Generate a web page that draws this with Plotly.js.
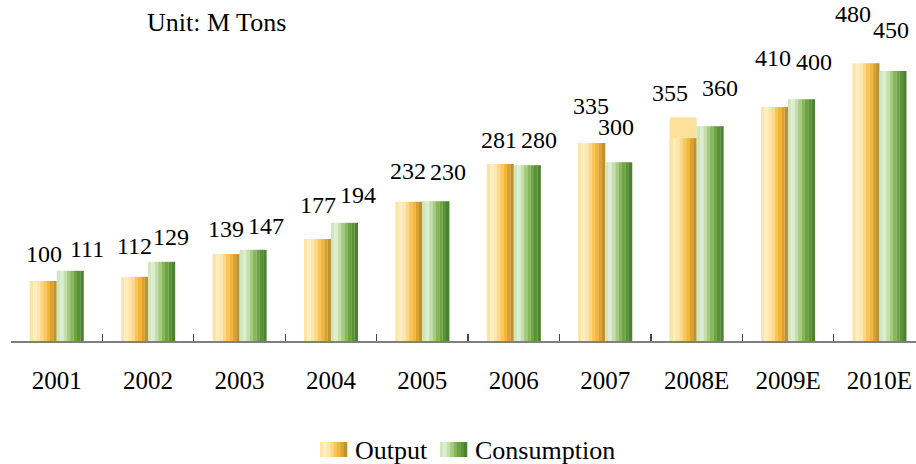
<!DOCTYPE html>
<html>
<head>
<meta charset="utf-8">
<script src="https://cdn.plot.ly/plotly-3.0.1.min.js"></script>
<style>html,body{margin:0;padding:0;background:#fff;}#chart{width:916px;height:464px;}</style>
</head>
<body>
<div id="chart"></div>
<script>
// ---- data ----
const years = ['2001','2002','2003','2004','2005','2006','2007','2008E','2009E','2010E'];
const outputBars = [100, 107, 145, 170, 232, 295, 330, 338, 390, 463];
const consumptionBars = [117, 132, 152, 197, 233, 293, 298, 358, 403, 450];
const outputUpper = [null, null, null, null, null, null, null, 373, null, null];
const outputLabels = [100, 112, 139, 177, 232, 281, 335, 355, 410, 480];
const consumptionLabels = [111, 129, 147, 194, 230, 280, 300, 360, 400, 450];
const unitText = 'Unit: M Tons';
const seriesNames = ['Output', 'Consumption'];

// ---- layout / style (label horizontal placement in px, as drawn in the original) ----
const outputLabelShift = [-13, -14, -14, -13, -14, -15, -14, -27, -15, -26];
const consLabelShift = [30, 23, 26, 27, 26, 25, 11, 23, 26, 12];
const FONT = 'Liberation Serif, Times New Roman, serif';
const outputBands = ['#FEE4A4','#FFEDC2','#FEE7AE','#FCD98A','#F9C65A','#F5B535','#D9A233','#BE922E'];
const consBands = ['#CFE6BF','#DCEDD0','#C4DFAC','#A5CB82','#86B75A','#6DA443','#5A9238','#4C8230'];
const upperColor = '#FDE09C';
const barW = 0.2953;
const bw = barW / outputBands.length;

// plot-area geometry in pixels (for paper-coordinate helpers)
const ML = 11, MT = 0, MB = 123, W = 916, H = 464;
const PW = W - ML, PH = H - MT - MB;
const px2x = p => (p - ML) / PW;
const py2y = p => (H - MB - p) / PH;

const traces = [];
traces.push({type:'bar', x: years, y: outputUpper, offset: -barW, width: barW,
  marker:{color: upperColor, line:{width:0}}, hoverinfo:'skip', showlegend:false});
outputBands.forEach((c, i) => traces.push({type:'bar', x: years, y: outputBars,
  offset: -barW + i*bw, width: bw*1.02, marker:{color:c, line:{width:0}},
  name: seriesNames[0], hoverinfo:'skip', showlegend:false}));
consBands.forEach((c, i) => traces.push({type:'bar', x: years, y: consumptionBars,
  offset: i*bw, width: bw*1.02, marker:{color:c, line:{width:0}},
  name: seriesNames[1], hoverinfo:'skip', showlegend:false}));
traces.push({type:'scatter', x:[], y:[], yaxis:'y2', showlegend:false, hoverinfo:'skip'});
traces.push({type:'scatter', x:[], y:[], yaxis:'y3', showlegend:false, hoverinfo:'skip'});

const annotations = [];
years.forEach((yr, i) => {
  annotations.push({x: i, y: outputLabels[i], xref:'x', yref:'y2', text: String(outputLabels[i]),
    showarrow:false, xanchor:'center', yanchor:'bottom', xshift: outputLabelShift[i],
    font:{family:FONT, size:24, color:'#000'}});
  annotations.push({x: i, y: consumptionLabels[i], xref:'x', yref:'y3', text: String(consumptionLabels[i]),
    showarrow:false, xanchor:'center', yanchor:'bottom', xshift: consLabelShift[i],
    font:{family:FONT, size:24, color:'#000'}});
});
annotations.push({x: px2x(145), y: py2y(22), xref:'paper', yref:'paper', text: unitText,
  showarrow:false, xanchor:'left', yanchor:'middle', font:{family:FONT, size:26, color:'#000'}});

// custom legend with banded swatches
const shapes = [];
const legendItems = [
  {bands: outputBands, x0: 320, x1: 347, tx: 353, name: seriesNames[0]},
  {bands: consBands, x0: 440, x1: 467, tx: 473, name: seriesNames[1]}
];
legendItems.forEach(it => {
  const step = (it.x1 - it.x0) / it.bands.length;
  it.bands.forEach((c, i) => shapes.push({type:'rect', xref:'paper', yref:'paper',
    x0: px2x(it.x0 + i*step), x1: px2x(it.x0 + (i+1)*step + 0.3),
    y0: py2y(457), y1: py2y(442), fillcolor:c, line:{width:0}, layer:'above'}));
  annotations.push({x: px2x(it.tx), y: py2y(450), xref:'paper', yref:'paper', text: it.name,
    showarrow:false, xanchor:'left', yanchor:'middle', font:{family:FONT, size:26, color:'#000'}});
});

const layout = {
  width: W, height: H,
  margin: {l: ML, r: 0, t: MT, b: MB, pad: 0},
  paper_bgcolor: '#fff', plot_bgcolor: '#fff',
  barmode: 'overlay',
  showlegend: false,
  xaxis: {type:'category', range:[-0.5, 9.4], showgrid:false, zeroline:false,
    showline:true, linecolor:'#7f7f7f', linewidth:1.5,
    ticks:'inside', tickson:'boundaries', ticklen:7, tickcolor:'#444', tickwidth:1.2,
    ticklabelstandoff: 16,
    tickfont:{family:FONT, size:25, color:'#000'}, fixedrange:true},
  yaxis: {range:[0, 568.3], visible:false, showgrid:false, zeroline:false, fixedrange:true},
  yaxis2: {range:[-13.9, 525.7], overlaying:'y', visible:false, showgrid:false, zeroline:false},
  yaxis3: {range:[-8.2, 519.7], overlaying:'y', visible:false, showgrid:false, zeroline:false},
  annotations: annotations,
  shapes: shapes
};

Plotly.newPlot('chart', traces, layout, {staticPlot:true, displayModeBar:false});
</script>
</body>
</html>
